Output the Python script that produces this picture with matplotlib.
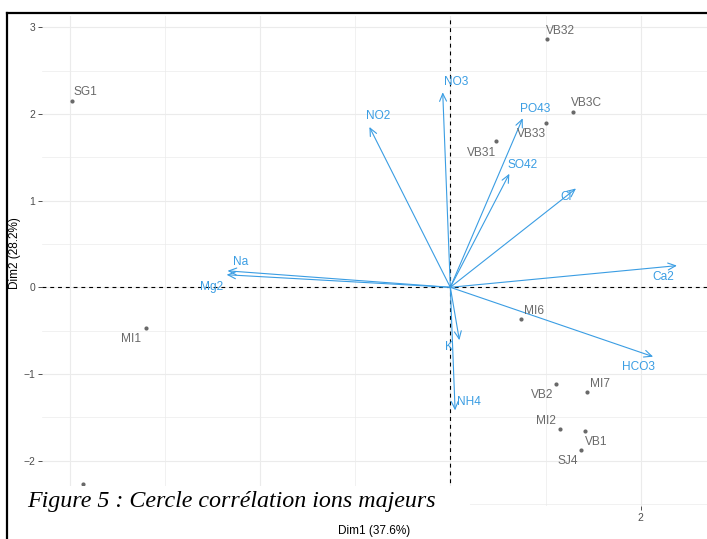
import matplotlib
matplotlib.use("Agg")
import matplotlib.pyplot as plt
from matplotlib.patches import Rectangle
from matplotlib.lines import Line2D
import numpy as np

# Individuals (PCA coordinates on Dim1 / Dim2)
ind_names = ["SG1", "VB32", "VB3C", "VB33", "VB31", "MI1", "MI6",
             "VB2", "MI7", "MI2", "VB1", "SJ4", ""]
ind_dim1 = [-3.97, 1.02, 1.29, 1.00, 0.48, -3.20, 0.74,
            1.11, 1.44, 1.15, 1.41, 1.37, -3.86]
ind_dim2 = [2.15, 2.87, 2.02, 1.90, 1.69, -0.47, -0.37,
            -1.11, -1.21, -1.63, -1.66, -1.88, -2.27]

# Variables (scaled loadings)
var_names = ["NO3", "PO43", "SO42", "Cl", "NO2", "Na", "Mg2",
             "Ca2", "HCO3", "K", "NH4"]
var_dim1 = [-0.08, 0.76, 0.62, 1.32, -0.85, -2.34, -2.35,
            2.38, 2.13, 0.095, 0.05]
var_dim2 = [2.25, 1.95, 1.31, 1.14, 1.85, 0.19, 0.145,
            0.25, -0.80, -0.61, -1.42]

dim1_pct = 37.6
dim2_pct = 28.2

# label offsets (pixels) relative to each mark
ind_offsets = {"SG1": (13, 9), "VB32": (13, 8), "VB3C": (13, 9),
               "VB33": (-14, -11), "VB31": (-15, -12), "MI1": (-15, -11),
               "MI6": (13, 8.5), "VB2": (-14, -11.5), "MI7": (13, 8.5),
               "MI2": (-14, 8), "VB1": (12, -10.5), "SJ4": (-13.5, -11),
               "": (0, 0)}
var_offsets = {"NO3": (13, 10.5), "PO43": (13, 9), "SO42": (13, 9),
               "Cl": (-10, -9), "NO2": (9, 10.5), "Na": (13, 8.5),
               "Mg2": (-15, -12), "Ca2": (-14, -11.4), "HCO3": (-15, -10.5),
               "K": (-10, -7), "NH4": (14, 8)}

W, H = 707, 539
fig = plt.figure(figsize=(W / 100, H / 100), dpi=100)
fig.patch.set_facecolor("white")

left, right, top, bottom = 42, 707, 16, 506
ax = fig.add_axes([left / W, 1 - bottom / H, (right - left) / W, (bottom - top) / H])
ax.set_xlim(-4.289, 2.696)
ax.set_ylim(-2.523, 3.130)

for s in ax.spines.values():
    s.set_visible(False)

grid_col = "#EBEBEB"
ax.set_xticks([-4, -2, 0, 2])
ax.set_xticks([-3, -1, 1], minor=True)
ax.set_yticks([-2, -1, 0, 1, 2, 3])
ax.set_yticks([-2.5, -1.5, -0.5, 0.5, 1.5, 2.5], minor=True)
ax.grid(True, which="major", color=grid_col, lw=0.8, zorder=0)
ax.grid(True, which="minor", color=grid_col, lw=0.5, zorder=0)
ax.set_axisbelow(True)
ax.tick_params(which="major", length=2.8, width=0.6, color="#333333",
               labelsize=7.5, labelcolor="#4D4D4D", pad=2)
ax.tick_params(which="minor", length=0)

ax.axhline(0, color="black", lw=0.8, linestyle=(0, (3.5, 3.5)), zorder=1)
ax.axvline(0, color="black", lw=0.8, linestyle=(0, (3.5, 3.5)), zorder=1)

var_col = "#3A9DE3"
ind_col = "#696969"

# individuals
ax.scatter(ind_dim1, ind_dim2, s=9, color=ind_col, zorder=3, linewidths=0)
for name, x, y in zip(ind_names, ind_dim1, ind_dim2):
    if name:
        dx, dy = ind_offsets[name]
        ax.annotate(name, (x, y), xytext=(dx, dy), textcoords="offset pixels",
                    ha="center", va="center", fontsize=8.6, color=ind_col,
                    family="Liberation Sans", zorder=4)

# variable arrows
for name, x, y in zip(var_names, var_dim1, var_dim2):
    ax.annotate("", xy=(x, y), xytext=(0, 0),
                arrowprops=dict(arrowstyle="->,head_length=0.55,head_width=0.25",
                                color=var_col, lw=0.8, shrinkA=0, shrinkB=0),
                zorder=2)
    dx, dy = var_offsets[name]
    ax.annotate(name, (x, y), xytext=(dx, dy), textcoords="offset pixels",
                ha="center", va="center", fontsize=8.6, color=var_col,
                family="Liberation Sans", zorder=4)

# axis titles placed by their centres
fig.text(374 / W, 1 - 531 / H, f"Dim1 ({dim1_pct}%)", fontsize=8.5,
         family="Liberation Sans", ha="center", va="center")
fig.text(15 / W, 1 - 253 / H, f"Dim2 ({dim2_pct}%)", fontsize=8.5,
         family="Liberation Sans", ha="center", va="center", rotation=90)

for lab in ax.get_xticklabels() + ax.get_yticklabels():
    lab.set_family("Liberation Sans")

# caption panel
fig.patches.append(Rectangle((8 / W, 1 - 523 / H), (470 - 8) / W, (523 - 486) / H,
                             transform=fig.transFigure, facecolor="white",
                             edgecolor="none", zorder=5))
fig.text(27 / W, 1 - 507 / H, "Figure 5 : Cercle corrélation ions majeurs",
         family="Liberation Serif", style="italic", fontsize=17.3,
         ha="left", va="baseline", zorder=6)

# frame edges
fig.lines.append(Line2D([6.5 / W, 1], [1 - 12.5 / H, 1 - 12.5 / H],
                        transform=fig.transFigure, color="black", lw=1.6, zorder=7))
fig.lines.append(Line2D([6.5 / W, 6.5 / W], [0, 1 - 12.5 / H],
                        transform=fig.transFigure, color="black", lw=1.6, zorder=7))

fig.savefig("out.png", dpi=100, facecolor="white")
